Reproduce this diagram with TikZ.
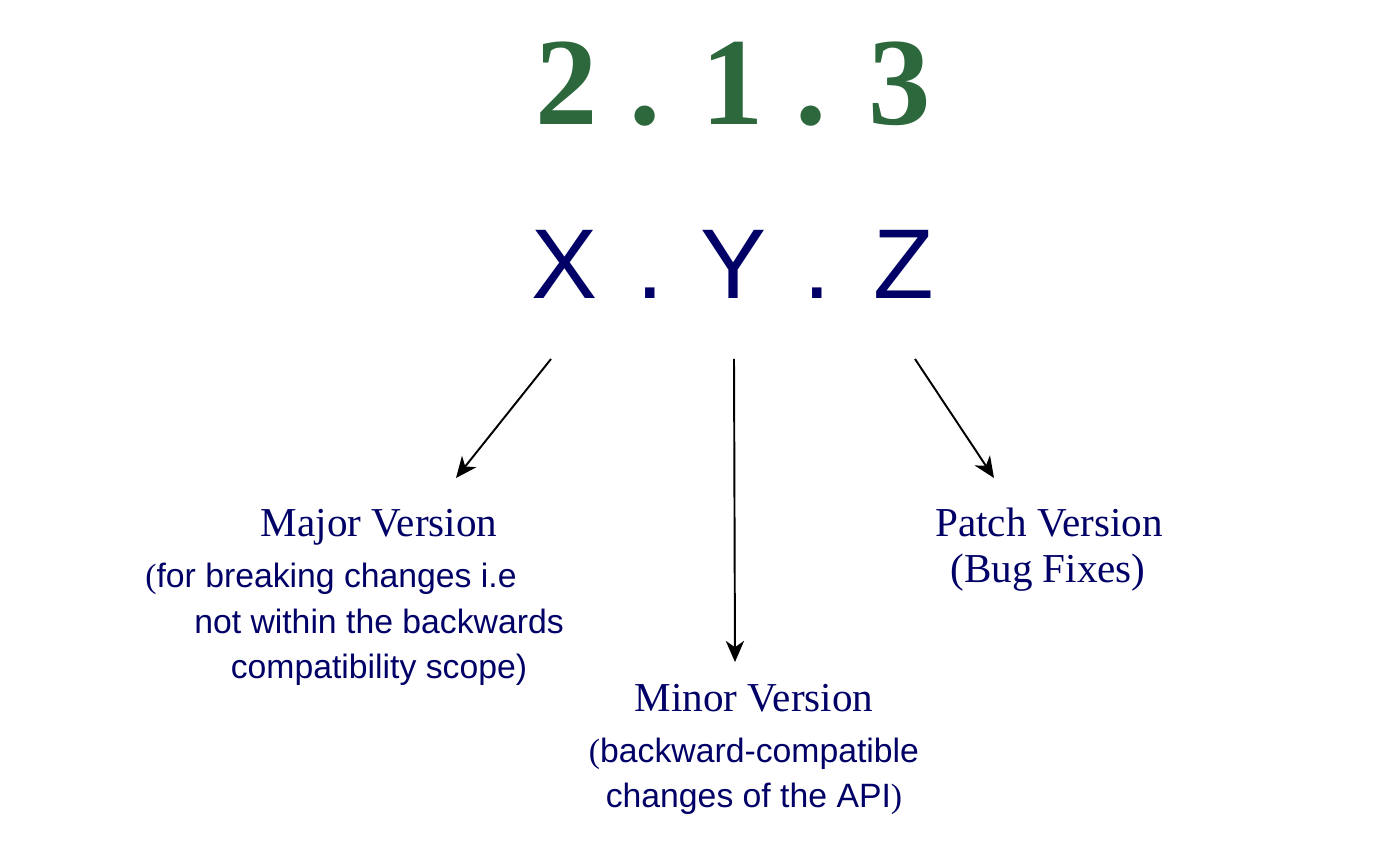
\documentclass[tikz,border=0pt]{standalone}
\usepackage{fontspec}
\setmainfont{Liberation Serif}
\setsansfont{Liberation Sans}
\providecommand{\svColorNum}{svgreen}
\providecommand{\svColorText}{svnavy}
\providecommand{\svStroke}{black}
\definecolor{svgreen}{RGB}{45,104,60}
\definecolor{svnavy}{RGB}{0,0,102}
\usepackage{tikz}
\usetikzlibrary{arrows.meta}
\tikzset{
  >={Stealth[length=6pt,width=5.2pt,inset=1.8pt]},
  numline/.style={text=\svColorNum,font=\bfseries\fontsize{35.5}{38}\selectfont,inner sep=0pt,anchor=base},
  varline/.style={text=\svColorText,font=\sffamily\fontsize{28.2}{30}\selectfont,inner sep=0pt,anchor=base},
  vtitle/.style={text=\svColorText,font=\fontsize{11.7}{14}\selectfont,inner sep=0pt,anchor=base},
  % multi-line nodes: base anchor sits on the last line
  vdesc/.style={text=\svColorText,font=\sffamily\fontsize{9.6}{13}\selectfont,inner sep=0pt,anchor=base,align=center},
  vdescrm/.style={text=\svColorText,font=\fontsize{11.7}{14}\selectfont,inner sep=0pt,anchor=base,align=center},
  conn/.style={->,draw=\svStroke,line width=0.55pt},
}
\newcommand{\rp}[1]{{\rmfamily #1}}

\begin{document}
\begin{tikzpicture}
  \useasboundingbox (0cm,0cm) rectangle (14.00cm,-8.58cm);
% --- Version numbers -------------------------------------------------------

  \node[numline] (num) at (7.33cm,-1.25cm) {2 . 1 . 3};

  \node[varline] (xyz) at (7.33cm,-2.99cm) {X\hspace{11pt}.\hspace{10.5pt}Y\hspace{10.5pt}.\hspace{12pt}Z};

% --- Labels ----------------------------------------------------------------

  \node[vtitle] (major) at (3.79cm,-5.37cm) {Major Version};

  \node[vdesc] (majorDesc) at (3.79cm,-6.79cm) {\rp{(}for breaking changes i.e\hspace*{0.96cm}\\not within the backwards\\compatibility scope)};

  \node[vtitle] (minor) at (7.54cm,-7.12cm) {Minor Version};

  \node[vdesc] (minorDesc) at (7.54cm,-8.08cm) {\rp{(}backward-compatible\\changes of the API\rp{)}};

  \node[vtitle] (patch) at (10.49cm,-5.37cm) {Patch Version};

  \node[vdescrm] (patchDesc) at (10.48cm,-5.83cm) {(Bug Fixes)};

% --- Edges -----------------------------------------------------------------

  \coordinate (xTail) at (5.51cm,-3.59cm);
  \coordinate (yTail) at (7.34cm,-3.59cm);
  \coordinate (zTail) at (9.15cm,-3.59cm);
  \coordinate (majorTip) at (4.56cm,-4.78cm);
  \coordinate (minorTip) at (7.35cm,-6.62cm);
  \coordinate (patchTip) at (9.94cm,-4.78cm);

  \path[conn] (xTail) -- (majorTip);

  \path[conn] (yTail) -- (minorTip);

  \path[conn] (zTail) -- (patchTip);

\end{tikzpicture}
\end{document}
